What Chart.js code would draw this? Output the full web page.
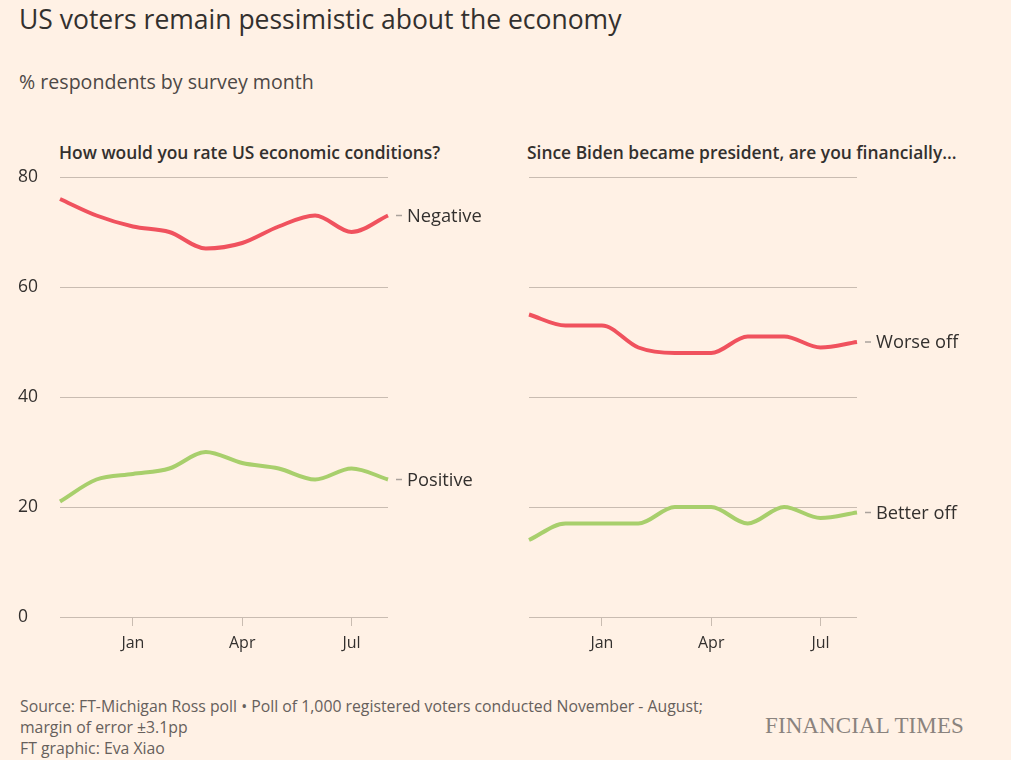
<!DOCTYPE html>
<html>
<head>
<meta charset="utf-8">
<script src="https://cdn.jsdelivr.net/npm/chart.js@4/dist/chart.umd.min.js"></script>
<style>
  body { margin: 0; background: #fff1e5; width: 1011px; height: 760px; position: relative; overflow: hidden;
         font-family: "Open Sans", Roboto, sans-serif; color: #33302e; }
  .t { position: absolute; white-space: nowrap; }
  #title { left: 19px; top: 1px; font-size: 26.5px; font-weight: 400; }
  #sub { left: 19px; top: 68px; font-size: 19.6px; color: #4d4845; }
  .ph { top: 140px; font-size: 17.4px; font-weight: 600; }
  #foot { left: 20px; top: 696px; font-size: 15.8px; color: #66605c; line-height: 21px; }
  #ft { left: 765px; top: 713px; font-family: "Liberation Serif", "DejaVu Serif", serif; font-size: 23px;
        color: #8a837e; letter-spacing: 0.1px; }
  canvas { position: absolute; }
</style>
</head>
<body>
<div class="t" id="title">US voters remain pessimistic about the economy</div>
<div class="t" id="sub">% respondents by survey month</div>
<div class="t ph" style="left:59px">How would you rate US economic conditions?</div>
<div class="t ph" style="left:527px">Since Biden became president, are you financially...</div>
<div class="t" id="foot">Source: FT-Michigan Ross poll • Poll of 1,000 registered voters conducted November - August;<br>margin of error ±3.1pp<br>FT graphic: Eva Xiao</div>
<div class="t" id="ft">FINANCIAL TIMES</div>

<div style="position:absolute;left:18px;top:165px;width:490px;height:500px"><canvas id="c1"></canvas></div>
<div style="position:absolute;left:521px;top:165px;width:490px;height:500px"><canvas id="c2"></canvas></div>

<script>
// survey months, November to August
const months = ['Nov', 'Dec', 'Jan', 'Feb', 'Mar', 'Apr', 'May', 'Jun', 'Jul', 'Aug'];
const shownMonths = ['Jan', 'Apr', 'Jul'];
const yTicks = [0, 20, 40, 60, 80];

// left panel: rating of US economic conditions
const negative = [76, 73, 71, 70, 67, 68, 71, 73, 70, 73];
const positive = [21, 25, 26, 27, 30, 28, 27, 25, 27, 25];

// right panel: financially better/worse off since Biden
const worseOff = [55, 53, 53, 49, 48, 48, 51, 51, 49, 50];
const betterOff = [14, 17, 17, 17, 20, 20, 17, 20, 18, 19];

const RED = '#f0525e';
const GREEN = '#a8cf6c';
const GRID = '#c9bcb1';
const TEXT = '#33302e';

// draws a little dash + series name next to the last point of each line
const endLabels = {
    id: 'endLabels',
    afterDatasetsDraw(chart) {
        const ctx = chart.ctx;
        const xs = chart.scales.x, ys = chart.scales.y;
        ctx.save();
        chart.data.datasets.forEach(ds => {
            const last = ds.data.length - 1;
            const x = xs.getPixelForValue(last);
            const y = ys.getPixelForValue(ds.data[last]);
            ctx.strokeStyle = '#aaa29c';
            ctx.lineWidth = 1.5;
            ctx.beginPath();
            ctx.moveTo(x + 8, y);
            ctx.lineTo(x + 14, y);
            ctx.stroke();
            ctx.fillStyle = TEXT;
            ctx.font = '18.3px "Open Sans", Roboto, sans-serif';
            ctx.textBaseline = 'middle';
            ctx.textAlign = 'left';
            ctx.fillText(ds.label, x + 19, y + 1);
        });
        ctx.restore();
    }
};

function makeChart(id, sets, showY, padRight) {
    return new Chart(document.getElementById(id), {
        type: 'line',
        data: {
            labels: months,
            datasets: sets.map(s => ({
                label: s.label,
                data: s.data,
                borderColor: s.color,
                borderWidth: 4,
                pointRadius: 0,
                fill: false,
                cubicInterpolationMode: 'monotone'
            }))
        },
        options: {
            responsive: true,
            maintainAspectRatio: false,
            animation: false,
            layout: { padding: { top: 12, right: padRight, bottom: 0, left: 0 } },
            plugins: { legend: { display: false }, tooltip: { enabled: false } },
            scales: {
                x: {
                    offset: false,
                    border: { display: false },
                    grid: {
                        drawOnChartArea: false,
                        drawTicks: true,
                        tickLength: 9,
                        lineWidth: 1,
                        color: c => shownMonths.includes(months[c.index]) ? GRID : 'rgba(0,0,0,0)'
                    },
                    ticks: {
                        autoSkip: false,
                        maxRotation: 0,
                        padding: 8,
                        color: TEXT,
                        font: { size: 16, family: '"Open Sans", Roboto, sans-serif' },
                        callback: (v, i) => shownMonths.includes(months[i]) ? months[i] : ''
                    },
                    afterFit: s => { s.height = 48; }
                },
                y: {
                    min: 0,
                    max: 80,
                    afterBuildTicks: s => { s.ticks = yTicks.map(v => ({ value: v })); },
                    border: { display: false },
                    grid: { color: GRID, lineWidth: 1, drawTicks: false },
                    ticks: {
                        display: showY,
                        crossAlign: 'far',
                        padding: 0,
                        color: TEXT,
                        font: { size: 17.5, family: '"Open Sans", Roboto, sans-serif' }
                    },
                    afterFit: s => { s.width = showY ? 42 : 0; }
                }
            }
        },
        plugins: [endLabels]
    });
}

makeChart('c1', [
    { label: 'Negative', data: negative, color: RED },
    { label: 'Positive', data: positive, color: GREEN }
], true, 490 - 370);

makeChart('c2', [
    { label: 'Worse off', data: worseOff, color: RED },
    { label: 'Better off', data: betterOff, color: GREEN }
], false, 490 - 7 - 329);
</script>
</body>
</html>
